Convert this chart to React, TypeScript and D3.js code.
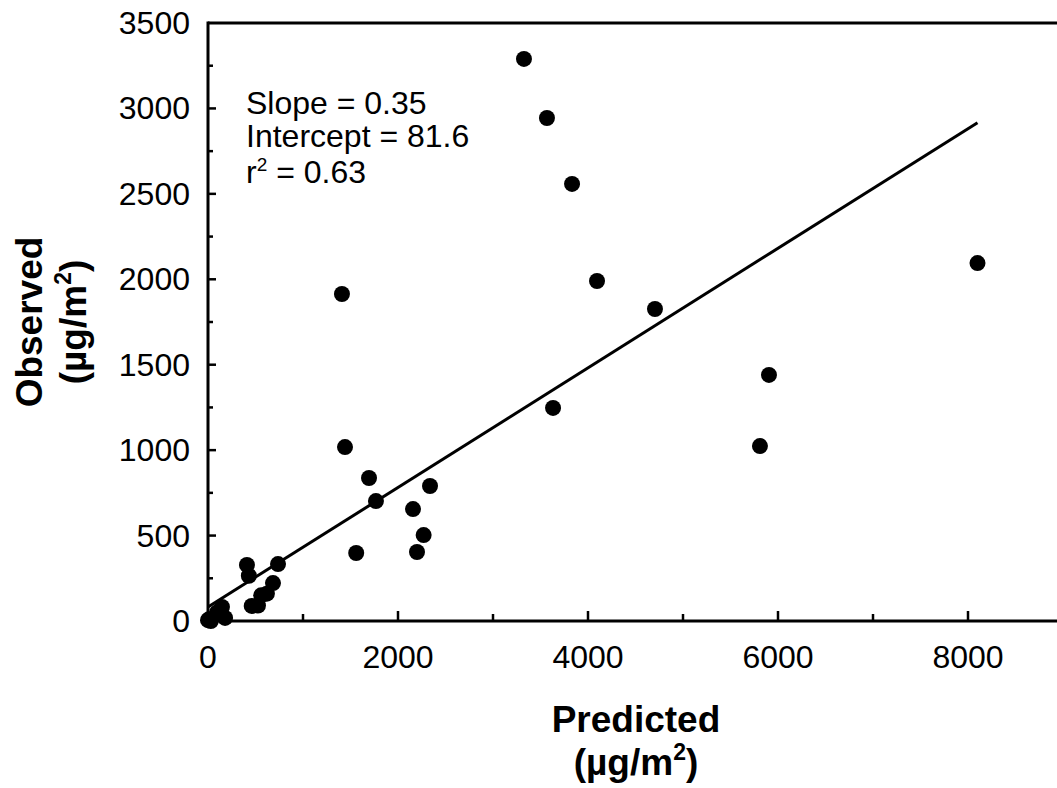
import React from "react";
import * as d3 from "d3";

const predicted = [
  1410, 1442, 1695, 1768, 2337, 2158, 2200, 2270, 1560, 3632, 4095, 4705, 5905, 5810,
  3326, 3568, 3832, 8100, 410, 430, 737, 684, 620, 560, 526, 460, 147, 95, 180, 0, 30, 10,
];
const observed = [
  1914, 1018, 837, 702, 790, 655, 404, 503, 398, 1247, 1990, 1826, 1440, 1024,
  3290, 2944, 2558, 2095, 328, 265, 333, 222, 160, 150, 90, 88, 82, 50, 18, 5, 0, 10,
];
const xMajorTicks = [0, 2000, 4000, 6000, 8000];
const xMinorTicks = [1000, 3000, 5000, 7000];
const yMajorTicks = [0, 500, 1000, 1500, 2000, 2500, 3000, 3500];
const yMinorTicks = [250, 750, 1250, 1750, 2250, 2750, 3250];
const slope = 0.35;
const intercept = 81.6;
const r2 = 0.63;

const W = 1057;
const H = 788;
const left = 208;
const top = 23;
const bottom = 621;

export default function App() {
  const x = d3.scaleLinear().domain([0, 9000]).range([left, left + 9000 * 0.095]);
  const y = d3.scaleLinear().domain([0, 3500]).range([bottom, top]);
  const xEnd = d3.max(predicted) as number;
  const lineGen = d3
    .line<number>()
    .x((d) => x(d))
    .y((d) => y(intercept + slope * d));
  const font = "'Liberation Sans', Arial, sans-serif";
  const tickFs = 32;
  const titleFs = 37;
  const annFs = 32;

  return (
    <svg
      width={W}
      height={H}
      style={{ position: "absolute", left: 0, top: 0, background: "#fff" }}
      fontFamily={font}
    >
      {/* frame */}
      <line x1={left} x2={W} y1={top} y2={top} stroke="#000" strokeWidth={3} />
      <line x1={left} x2={W} y1={bottom} y2={bottom} stroke="#000" strokeWidth={3} />
      <line x1={left} x2={left} y1={top - 1.5} y2={bottom + 1.5} stroke="#000" strokeWidth={3} />

      {/* x ticks */}
      {xMajorTicks.map((t) => (
        <g key={"xm" + t}>
          {t > 0 && (
            <line x1={x(t)} x2={x(t)} y1={bottom} y2={bottom - 10} stroke="#000" strokeWidth={2.5} />
          )}
          <text x={x(t)} y={668} textAnchor="middle" fontSize={tickFs} fill="#000">
            {t}
          </text>
        </g>
      ))}
      {xMinorTicks.map((t) => (
        <line key={"xn" + t} x1={x(t)} x2={x(t)} y1={bottom} y2={bottom - 7} stroke="#000" strokeWidth={2.5} />
      ))}

      {/* y ticks */}
      {yMajorTicks.map((t) => (
        <g key={"ym" + t}>
          {t > 0 && t < 3500 && (
            <line x1={left} x2={left + 8} y1={y(t)} y2={y(t)} stroke="#000" strokeWidth={2.5} />
          )}
          <text x={190} y={y(t) + 11} textAnchor="end" fontSize={tickFs} fill="#000">
            {t}
          </text>
        </g>
      ))}
      {yMinorTicks.map((t) => (
        <line key={"yn" + t} x1={left} x2={left + 5} y1={y(t)} y2={y(t)} stroke="#000" strokeWidth={2.5} />
      ))}

      {/* regression line */}
      <path d={lineGen([0, xEnd]) || ""} fill="none" stroke="#000" strokeWidth={3} />

      {/* points */}
      {predicted.map((p, i) => (
        <circle key={"p" + i} cx={x(p)} cy={y(observed[i])} r={8} fill="#000" />
      ))}

      {/* annotation */}
      <text x={246} y={114} fontSize={annFs} fill="#000">{`Slope = ${slope.toFixed(2)}`}</text>
      <text x={246} y={147} fontSize={annFs} fill="#000">{`Intercept = ${intercept}`}</text>
      <text x={246} y={183} fontSize={annFs} fill="#000">
        r<tspan dy={-12} fontSize={19}>2</tspan>
        <tspan dy={12}>{` = ${r2.toFixed(2)}`}</tspan>
      </text>

      {/* x title */}
      <text x={636} y={732} textAnchor="middle" fontSize={titleFs} fontWeight="bold" fill="#000">
        Predicted
      </text>
      <text x={636} y={775} textAnchor="middle" fontSize={titleFs} fontWeight="bold" fill="#000">
        (µg/m<tspan dy={-15} fontSize={23}>2</tspan>
        <tspan dy={15}>)</tspan>
      </text>

      {/* y title */}
      <g transform={`translate(42, 322) rotate(-90)`}>
        <text x={0} y={0} textAnchor="middle" fontSize={titleFs} fontWeight="bold" fill="#000">
          Observed
        </text>
      </g>
      <g transform={`translate(86, 322) rotate(-90)`}>
        <text x={0} y={0} textAnchor="middle" fontSize={titleFs} fontWeight="bold" fill="#000">
          (µg/m<tspan dy={-15} fontSize={23}>2</tspan>
          <tspan dy={15}>)</tspan>
        </text>
      </g>
    </svg>
  );
}
